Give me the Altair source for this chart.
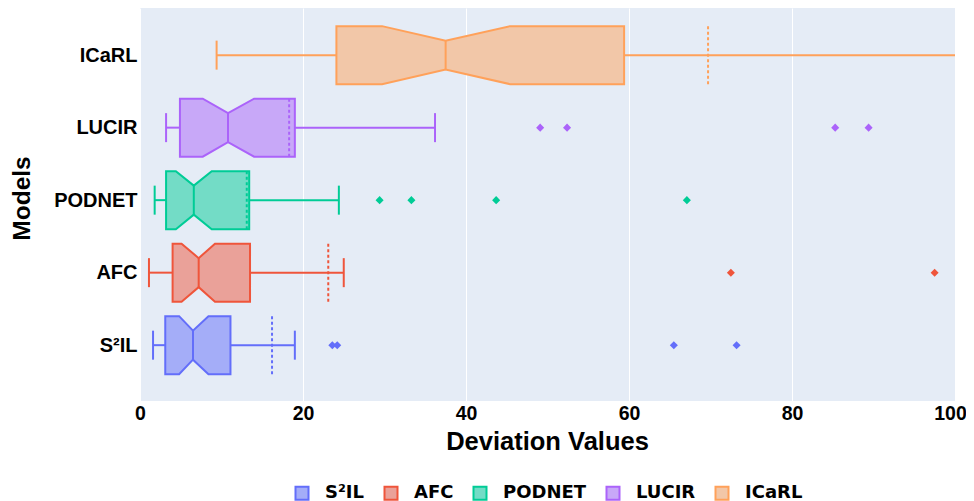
import json
import altair as alt
import pandas as pd

# ---- data ----
models = ["S²IL", "AFC", "PODNET", "LUCIR", "ICaRL"]
lower_fence = [1.6, 1.1, 1.8, 3.2, 9.4]
q1 = [3.1, 4.0, 3.2, 4.9, 24.1]
notch_lo = [4.8, 5.1, 4.4, 7.7, 29.7]
median = [6.5, 7.2, 6.6, 10.8, 37.5]
notch_hi = [8.4, 9.2, 8.8, 14.0, 45.4]
q3 = [11.1, 13.5, 13.4, 19.0, 59.4]
upper_fence = [19.0, 25.0, 24.4, 36.2, 112.0]
means = [16.2, 23.1, 13.1, 18.3, 69.7]
outliers_s2il = [23.6, 24.2, 65.5, 73.2]
outliers_afc = [72.5, 97.5]
outliers_podnet = [29.4, 33.3, 43.7, 67.1]
outliers_lucir = [49.1, 52.4, 85.3, 89.4]
outliers_icarl = []
x_ticks = [0, 20, 40, 60, 80, 100]

line_colors = ["#636EFA", "#EF553B", "#00CC96", "#AB63FA", "#FFA15A"]
fill_colors = ["#A4ADF8", "#EAA199", "#73DCC6", "#C8A8F8", "#F2C7A8"]

BOX = 0.4
NOTCH = 0.2
CAP = 0.2

# ---- tables built from the lists ----
box_rows = []
for i, m in enumerate(models):
    for xv, half in [(q1[i], BOX), (notch_lo[i], BOX), (median[i], NOTCH),
                     (notch_hi[i], BOX), (q3[i], BOX)]:
        box_rows.append({"model": m, "x": xv, "top": i + half, "bot": i - half})
box_df = pd.DataFrame(box_rows)

stats_df = pd.DataFrame({
    "grp": models,
    "pos": list(range(len(models))),
    "lf": lower_fence, "q1": q1, "med": median, "q3": q3,
    "uf": upper_fence, "mean": means,
})
stats_df["box_lo"] = stats_df["pos"] - BOX
stats_df["box_hi"] = stats_df["pos"] + BOX
stats_df["n_lo"] = stats_df["pos"] - NOTCH
stats_df["n_hi"] = stats_df["pos"] + NOTCH
stats_df["c_lo"] = stats_df["pos"] - CAP
stats_df["c_hi"] = stats_df["pos"] + CAP

out_rows = []
for i, (m, vals) in enumerate(zip(models, [outliers_s2il, outliers_afc, outliers_podnet,
                                         outliers_lucir, outliers_icarl])):
    for v in vals:
        out_rows.append({"grp": m, "pos": i, "value": v})
out_df = pd.DataFrame(out_rows)

xscale = alt.Scale(domain=[0, 100], nice=False, zero=False)
yscale = alt.Scale(domain=[-0.77, 4.65], nice=False, zero=False)
color_scale = alt.Scale(domain=models, range=line_colors)

label_expr = json.dumps(models) + "[datum.value]"

x_axis = alt.Axis(
    title="Deviation Values", values=x_ticks, grid=True, gridColor="white", gridWidth=1,
    domain=False, ticks=False, labelFlush=False,
    labelOffset={"expr": "datum.value == 100 ? -5 : 0"},
    labelFont="Liberation Sans",
    labelFontWeight="bold", labelFontSize=19.5, labelColor="#000000", labelPadding=3,
    titleFont="Liberation Sans", titleFontWeight="bold", titleFontSize=25.5,
    titleColor="#000000", titleX=407, titleY=40, titleBaseline="middle",
    titleAlign="center", titleAnchor="middle",
)
y_axis = alt.Axis(
    title="Models", values=[0, 1, 2, 3, 4], labelExpr=label_expr, grid=False,
    domain=False, ticks=False, labelFont="Liberation Sans", labelFontWeight="bold",
    labelFontSize=20, labelColor="#000000", labelPadding=3,
    titleFont="Liberation Sans", titleFontWeight="bold", titleFontSize=24.5,
    titleColor="#000000", titleX=-118, titleY=190, titleAngle=270,
    titleBaseline="middle", titleAlign="center",
)

legend = alt.Legend(
    title=None, orient="none", legendX=153, legendY=476, direction="horizontal",
    symbolType="square", symbolSize=169, symbolStrokeWidth=2,
    labelFont="DejaVu Sans", labelFontWeight="bold", labelFontSize=18,
    labelColor="#000000", labelOffset=14, columnPadding=15, padding=0,
)

boxes = alt.Chart(box_df).mark_area(
    orient="vertical", strokeWidth=2, fillOpacity=1, clip=True
).encode(
    x=alt.X("x:Q", scale=xscale, axis=x_axis),
    y=alt.Y("top:Q", scale=yscale, axis=y_axis),
    y2="bot:Q",
    fill=alt.Fill("model:N", scale=alt.Scale(domain=models, range=fill_colors),
                  legend=legend, sort=models),
    stroke=alt.Stroke("model:N", scale=alt.Scale(domain=models, range=line_colors),
                      legend=legend, sort=models),
    detail="model:N",
)

base = alt.Chart(stats_df)
col = alt.Color("grp:N", scale=color_scale, legend=None)

median_rule = base.mark_rule(strokeWidth=2, clip=True).encode(
    x=alt.X("med:Q", scale=xscale, axis=x_axis),
    y=alt.Y("n_lo:Q", scale=yscale, axis=y_axis), y2="n_hi:Q", color=col)

whisk_lo = base.mark_rule(strokeWidth=2, clip=True).encode(
    x=alt.X("lf:Q", scale=xscale, axis=x_axis), x2="q1:Q",
    y=alt.Y("pos:Q", scale=yscale, axis=y_axis), color=col)
whisk_hi = base.mark_rule(strokeWidth=2, clip=True).encode(
    x=alt.X("q3:Q", scale=xscale, axis=x_axis), x2="uf:Q",
    y=alt.Y("pos:Q", scale=yscale, axis=y_axis), color=col)
cap_lo = base.mark_rule(strokeWidth=2, clip=True).encode(
    x=alt.X("lf:Q", scale=xscale, axis=x_axis),
    y=alt.Y("c_lo:Q", scale=yscale, axis=y_axis), y2="c_hi:Q", color=col)
cap_hi = base.mark_rule(strokeWidth=2, clip=True).encode(
    x=alt.X("uf:Q", scale=xscale, axis=x_axis),
    y=alt.Y("c_lo:Q", scale=yscale, axis=y_axis), y2="c_hi:Q", color=col)
mean_rule = base.mark_rule(strokeWidth=2, strokeDash=[3, 2.5], clip=True).encode(
    x=alt.X("mean:Q", scale=xscale, axis=x_axis),
    y=alt.Y("box_lo:Q", scale=yscale, axis=y_axis), y2="box_hi:Q", color=col)

points = alt.Chart(out_df).mark_point(
    shape="diamond", filled=True, size=65, opacity=1, clip=True
).encode(
    x=alt.X("value:Q", scale=xscale, axis=x_axis),
    y=alt.Y("pos:Q", scale=yscale, axis=y_axis),
    color=col,
)

chart = alt.layer(
    boxes, whisk_lo, whisk_hi, cap_lo, cap_hi, median_rule, mean_rule, points
).properties(
    width=815, height=393,
    autosize=alt.AutoSizeParams(type="none"),
    padding={"left": 132, "top": 0, "right": 11, "bottom": 100},
    background="white",
).configure_view(
    fill="#E5ECF6", stroke=None
)

chart.save("out.html", embed_options={"renderer": "svg", "actions": False})
